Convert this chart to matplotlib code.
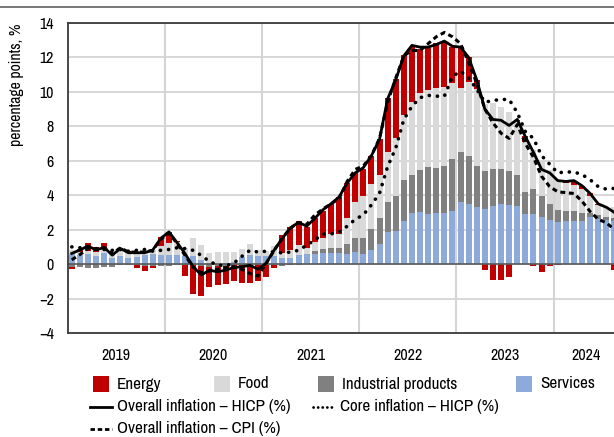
import numpy as np
import matplotlib
matplotlib.use("Agg")
import matplotlib.pyplot as plt
from matplotlib.patches import Rectangle
from matplotlib.lines import Line2D

plt.rcParams['font.family'] = ['Archivo Narrow', 'DejaVu Sans']
plt.rcParams['font.size'] = 11

# monthly data, Jan 2019 - Aug 2024 (contributions in p.p., lines in %)
years = ['2019', '2020', '2021', '2022', '2023', '2024']

services = [0.6, 0.55, 0.6, 0.45, 0.65, 0.35, 0.5, 0.35, 0.4, 0.55, 0.6, 0.52,
            0.52, 0.55, 0.5, 0.45, 0.25, 0.05, 0.02, 0.05, 0.1, 0.4, 0.52, 0.45,
            0.45, 0.5, 0.33, 0.33, 0.52, 0.58, 0.58, 0.62, 0.66, 0.66, 0.58, 0.68,
            0.58, 0.82, 1.17, 1.87, 1.94, 2.5, 2.97, 3.03, 2.92, 2.97, 2.97, 3.09,
            3.62, 3.5, 3.3, 3.2, 3.38, 3.5, 3.44, 3.38, 2.92, 2.9, 2.76, 2.57,
            2.45, 2.53, 2.53, 2.53, 2.76, 2.6, 2.55, 2.5]
industrial = [-0.15, -0.15, -0.2, -0.2, -0.15, -0.15, -0.05, -0.05, -0.05, -0.1, -0.1, -0.1,
              -0.1, -0.05, -0.05, -0.05, -0.1, -0.15, -0.1, -0.1, -0.05, -0.05, -0.05, -0.05,
              -0.05, -0.05, -0.1, -0.05, -0.05, 0.0, 0.2, 0.24, 0.25, 0.25, 0.59, 0.82,
              0.92, 1.22, 1.51, 1.73, 2.02, 2.4, 2.22, 2.45, 2.74, 2.63, 2.74, 3.03,
              2.91, 2.8, 2.41, 2.22, 2.16, 2.04, 1.98, 1.81, 1.28, 1.45, 1.17, 0.93,
              0.72, 0.58, 0.58, 0.46, 0.21, 0.25, 0.2, 0.2]
food = [0.2, 0.15, 0.15, 0.25, 0.25, 0.3, 0.3, 0.35, 0.3, 0.25, 0.2, 0.55,
        0.68, 0.75, 0.41, 1.05, 0.85, 0.57, 0.66, 0.67, 0.62, 0.47, 0.63, 0.35,
        0.3, 0.55, 0.29, 0.5, 0.58, 0.37, 0.5, 0.65, 0.84, 0.84, 1.53, 2.13,
        2.46, 2.62, 2.51, 2.93, 3.39, 3.77, 4.22, 4.43, 4.44, 4.6, 4.55, 4.4,
        3.71, 4.3, 4.44, 3.9, 3.8, 3.6, 3.4, 3.1, 2.87, 2.3, 2.0, 1.98,
        1.73, 1.59, 1.49, 1.35, 0.96, 0.6, 0.55, 0.6]
energy = [-0.15, 0.2, 0.45, 0.3, 0.3, 0.0, 0.15, 0.05, -0.15, -0.3, -0.1, 0.5,
          0.68, 0.05, -0.64, -1.7, -1.75, -1.2, -1.1, -1.05, -0.95, -1.05, -1.05, -0.95,
          -0.72, -0.2, 1.07, 1.35, 1.43, 1.23, 1.4, 1.6, 1.75, 2.15, 2.0, 1.66,
          1.56, 1.64, 2.1, 3.09, 3.38, 3.46, 3.22, 2.57, 2.46, 2.63, 2.61, 2.1,
          2.36, 1.4, 0.55, -0.33, -0.9, -0.9, -0.76, 0.1, 0.35, -0.12, -0.45, -0.1,
          -0.06, 0.1, 0.25, 0.2, 0.2, 0.05, 0.0, -0.35]

hicp = [0.62, 0.82, 1.05, 0.82, 0.97, 0.52, 0.91, 0.66, 0.66, 0.66, 0.82, 1.5,
        1.87, 1.25, 0.6, -0.15, -0.64, -0.35, -0.45, -0.35, -0.2, -0.15, -0.07, -0.3,
        0.05, 0.82, 1.5, 2.1, 2.43, 2.2, 2.65, 3.15, 3.5, 3.9, 4.7, 5.3,
        5.6, 6.3, 7.25, 9.6, 10.7, 12.1, 12.7, 12.6, 12.6, 12.75, 12.95, 12.65,
        12.6, 12.0, 10.7, 9.0, 8.4, 8.35, 8.05, 8.4, 7.4, 6.5, 5.5, 5.3,
        4.85, 4.8, 4.85, 4.55, 4.1, 3.5, 3.3, 3.0]
core = [1.0, 0.95, 0.95, 0.9, 0.85, 0.8, 0.85, 0.75, 0.8, 0.85, 0.75, 0.8,
        0.85, 0.95, 0.9, 0.8, 0.5, 0.15, -0.05, -0.1, 0.05, 0.45, 0.8, 0.7,
        0.75, 0.7, 0.65, 0.7, 0.8, 1.1, 1.4, 1.75, 1.75, 1.85, 2.2, 2.6,
        2.86, 3.44, 4.12, 5.67, 6.74, 8.4, 9.17, 9.66, 9.8, 9.75, 9.75, 10.9,
        11.2, 10.8, 10.15, 9.4, 9.5, 9.56, 9.56, 8.8, 7.7, 7.3, 6.3, 5.8,
        5.3, 5.35, 5.35, 5.2, 4.9, 4.5, 4.35, 4.4]
cpi = [0.25, 0.55, 0.9, 0.85, 0.95, 0.6, 0.95, 0.7, 0.7, 0.7, 0.8, 1.45,
       1.8, 1.2, 0.5, -0.2, -0.5, -0.4, -0.3, -0.2, -0.15, -0.3, -0.55, -0.7,
       0.05, 0.8, 1.5, 2.1, 2.4, 2.3, 2.85, 3.2, 3.5, 3.8, 4.8, 5.5,
       5.7, 6.3, 7.3, 9.4, 10.8, 12.1, 12.4, 12.4, 12.8, 13.2, 13.45, 13.2,
       12.8, 11.7, 10.5, 9.0, 8.2, 7.6, 7.3, 8.1, 7.0, 6.2, 5.1, 4.5,
       4.2, 4.15, 4.1, 3.65, 3.05, 2.6, 2.4, 2.0]

W, H = 614, 437
fig = plt.figure(figsize=(W / 100, H / 100), dpi=100)
ax = fig.add_axes([67.7 / W, 104 / H, 550.8 / W, 310 / H])

x = np.arange(len(hicp))
pos_bottom = np.zeros(len(x))
neg_bottom = np.zeros(len(x))
stack = [(services, '#8EAADB'), (industrial, '#808080'), (food, '#D9D9D9'), (energy, '#C00000')]
for vals, col in stack:
    v = np.array(vals)
    bottom = np.where(v >= 0, pos_bottom, neg_bottom)
    ax.bar(x, v, bottom=bottom, width=0.74, color=col, linewidth=0, zorder=2)
    pos_bottom += np.clip(v, 0, None)
    neg_bottom += np.clip(v, None, 0)

ax.axhline(0, color='#5a5a5a', lw=1.2, zorder=2.5)
ax.plot(x, cpi, color='black', lw=2.2, linestyle=(0, (1.6, 1.2)), zorder=3)
ax.plot(x, core, color='black', lw=2.6, linestyle=(0, (0.05, 2.2)), dash_capstyle='round', zorder=3)
ax.plot(x, hicp, color='black', lw=2.0, zorder=4)

ax.set_xlim(-0.5, len(x) - 0.5)
ax.set_ylim(-4, 14)
ax.set_yticks(np.arange(-4, 15, 2))
ax.set_axisbelow(True)
ax.yaxis.grid(True, color='#D4D4D4', lw=1.3)

bounds = [11.5, 23.5, 35.5, 47.5, 59.5]
for b in bounds:
    ax.axvline(b, color='#D4D4D4', lw=1.5, zorder=0.5)
ax.set_xticks([5.5, 17.5, 29.5, 41.5, 53.5, (59.5 + len(x) - 0.5) / 2])
ax.set_xticklabels(years)
ax.tick_params(axis='both', length=0, labelsize=11.5)
ax.tick_params(axis='x', pad=11)
ax.tick_params(axis='y', pad=10)
for s in ax.spines.values():
    s.set_color('#3a3a3a')
    s.set_linewidth(1.3)
ax.set_ylabel('percentage points, %', loc='top', fontsize=11.3, labelpad=11)

# header rule
fig.add_artist(Line2D([0, 1], [1 - 7 / H, 1 - 7 / H], color='#606060', lw=1.2))

# legend
def leg_patch(px, py, col, label):
    fig.add_artist(Rectangle((px / W, 1 - (py + 8) / H), 16 / W, 16 / H,
                             transform=fig.transFigure, color=col, lw=0))
    fig.text((px + 24) / W, 1 - py / H, label, va='center', ha='left', fontsize=12.3)

def leg_line(px, py, ls, lw, label, cap='butt'):
    fig.add_artist(Line2D([px / W, (px + 22) / W], [1 - py / H, 1 - py / H], color='black',
                          lw=lw, linestyle=ls, dash_capstyle=cap))
    fig.text((px + 27) / W, 1 - py / H, label, va='center', ha='left', fontsize=12.3)

leg_patch(93, 384, '#C00000', 'Energy')
leg_patch(214, 384, '#D9D9D9', 'Food')
leg_patch(318, 384, '#808080', 'Industrial products')
leg_patch(516, 384, '#8EAADB', 'Services')
leg_line(90, 407, '-', 2.0, 'Overall inflation – HICP (%)')
leg_line(313, 407, (0, (0.05, 1.6)), 2.0, 'Core inflation – HICP (%)', cap='round')
leg_line(90, 429, (0, (1.6, 1.0)), 2.0, 'Overall inflation – CPI (%)')

fig.savefig('out.png', dpi=100)
